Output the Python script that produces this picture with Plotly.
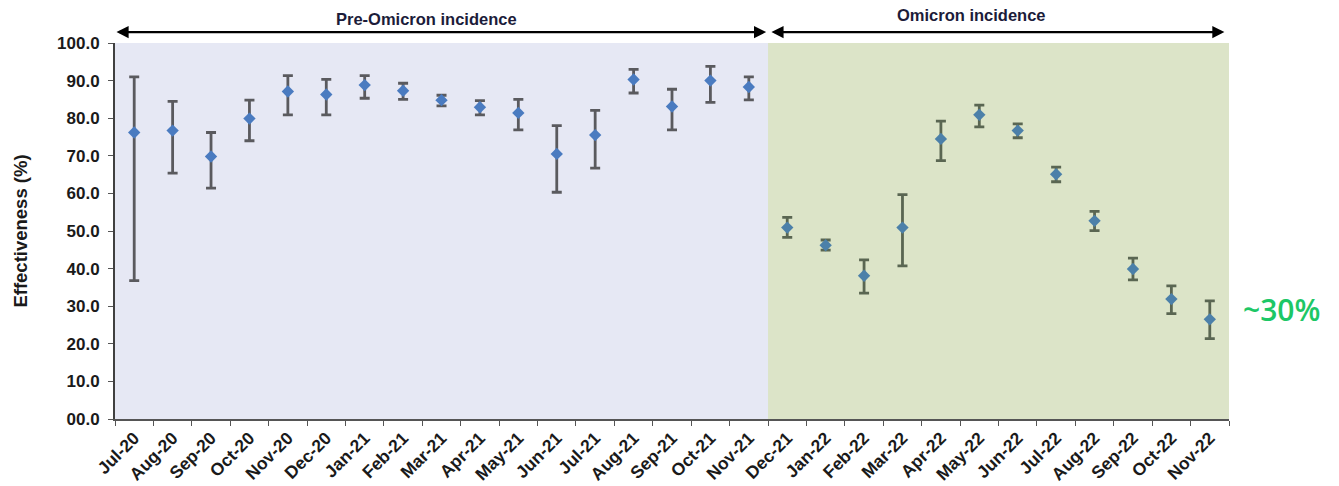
import plotly.graph_objects as go

months = ["Jul-20", "Aug-20", "Sep-20", "Oct-20", "Nov-20", "Dec-20", "Jan-21", "Feb-21",
          "Mar-21", "Apr-21", "May-21", "Jun-21", "Jul-21", "Aug-21", "Sep-21", "Oct-21",
          "Nov-21", "Dec-21", "Jan-22", "Feb-22", "Mar-22", "Apr-22", "May-22", "Jun-22",
          "Jul-22", "Aug-22", "Sep-22", "Oct-22", "Nov-22"]
effectiveness = [76.2, 76.7, 69.8, 79.9, 87.1, 86.3, 88.8, 87.3, 84.8, 82.9, 81.4, 70.5,
                 75.5, 90.3, 83.1, 90.0, 88.3, 50.9, 46.2, 38.1, 50.9, 74.5, 80.9, 76.7,
                 65.1, 52.7, 39.9, 31.9, 26.5]
upper_ci = [91.0, 84.5, 76.2, 84.8, 91.3, 90.3, 91.3, 89.3, 86.1, 84.7, 85.0, 78.0,
            82.1, 93.0, 87.7, 93.8, 91.0, 53.6, 47.6, 42.3, 59.7, 79.2, 83.5, 78.5,
            67.0, 55.2, 42.8, 35.4, 31.4]
lower_ci = [36.8, 65.4, 61.4, 74.0, 80.9, 80.9, 85.3, 85.0, 83.3, 80.9, 76.9, 60.3,
            66.7, 86.7, 76.9, 84.2, 84.9, 48.3, 44.9, 33.5, 40.7, 68.7, 77.7, 74.8,
            63.1, 50.1, 37.0, 28.0, 21.4]
n_pre = 17  # Jul-20 .. Nov-21 are pre-Omicron
ytick_vals = [0, 10, 20, 30, 40, 50, 60, 70, 80, 90, 100]
ytick_text = ["00.0", "10.0", "20.0", "30.0", "40.0", "50.0", "60.0", "70.0", "80.0", "90.0", "100.0"]
period_labels = ["Pre-Omicron incidence", "Omicron incidence"]
note_text = "~30%"

fig = go.Figure()

def add_series(sl, marker_color, bar_color):
    x = months[sl]
    y = effectiveness[sl]
    up = [u - v for u, v in zip(upper_ci[sl], y)]
    dn = [v - l for v, l in zip(y, lower_ci[sl])]
    fig.add_trace(go.Scatter(
        x=x, y=y, mode="markers",
        marker=dict(symbol="diamond", size=9.5, color=marker_color),
        error_y=dict(type="data", symmetric=False, array=up, arrayminus=dn,
                     color=bar_color, thickness=2.8, width=5),
        showlegend=False, hoverinfo="x+y"))

add_series(slice(0, n_pre), "#4A7BC0", "#5A5A5E")
add_series(slice(n_pre, len(months)), "#4C80A9", "#5A6652")

n = len(months)
fig.add_shape(type="rect", xref="x", yref="y", x0=-0.5, x1=n_pre - 0.5, y0=0, y1=100,
              fillcolor="#E6E8F4", line_width=0, layer="below")
fig.add_shape(type="rect", xref="x", yref="y", x0=n_pre - 0.5, x1=n - 0.5, y0=0, y1=100,
              fillcolor="#DCE4C8", line_width=0, layer="below")

# double-headed arrows above the plot
arrow_y = 1.029
for (a, b) in [(-0.5, n_pre - 0.55), (n_pre - 0.45, n - 0.62)]:
    fig.add_annotation(x=b, y=arrow_y, ax=a, ay=0, xref="x", yref="paper",
                       axref="x", ayref="pixel", text="", showarrow=True,
                       arrowhead=2, arrowsize=1.1, arrowwidth=2.2, arrowcolor="#000000",
                       arrowside="end+start", standoff=0, startstandoff=0)

fig.add_annotation(x=(n_pre - 1) / 2 - 0.4, y=1.064, xref="x", yref="paper",
                   xanchor="center", yanchor="middle",
                   text=period_labels[0], showarrow=False,
                   font=dict(family="Liberation Sans", size=16.5, color="#1c1c3a", weight="bold"))
fig.add_annotation(x=(n_pre + n - 1) / 2 - 0.7, y=1.074, xref="x", yref="paper",
                   xanchor="center", yanchor="middle",
                   text=period_labels[1], showarrow=False,
                   font=dict(family="Liberation Sans", size=16.5, color="#1c1c3a", weight="bold"))
fig.add_annotation(x=1.0467, y=0.29, xref="paper", yref="paper", text=note_text,
                   xanchor="center", yanchor="middle", showarrow=False,
                   font=dict(family="Open Sans", size=30, color="#1DC766", weight=600))

fig.update_layout(
    width=1339, height=486,
    margin=dict(l=115, r=110, t=43, b=67),
    paper_bgcolor="white", plot_bgcolor="white",
    font=dict(family="Liberation Sans", color="#1a1a1a"),
    xaxis=dict(type="category", categoryorder="array", categoryarray=months,
               range=[-0.5, n - 0.5], tickson="boundaries", ticks="outside",
               ticklen=5, tickcolor="#555555", showline=True, linecolor="#555555",
               linewidth=2, showgrid=False, tickangle=-45, automargin=False,
               tickfont=dict(size=17.5, weight="bold", color="#1a1a1a")),
    yaxis=dict(range=[0, 100], tickvals=ytick_vals, ticktext=ytick_text,
               ticks="outside", ticklen=5, tickcolor="#555555", showline=True,
               linecolor="#404040", linewidth=2, showgrid=False, zeroline=False,
               automargin=False, ticklabelstandoff=5,
               tickfont=dict(size=17, weight="bold", color="#1a1a1a"),
               title=dict(text="Effectiveness (%)", standoff=25,
                          font=dict(size=18.5, weight="bold", color="#1a1a1a"))),
)

fig.write_html("out.html")
